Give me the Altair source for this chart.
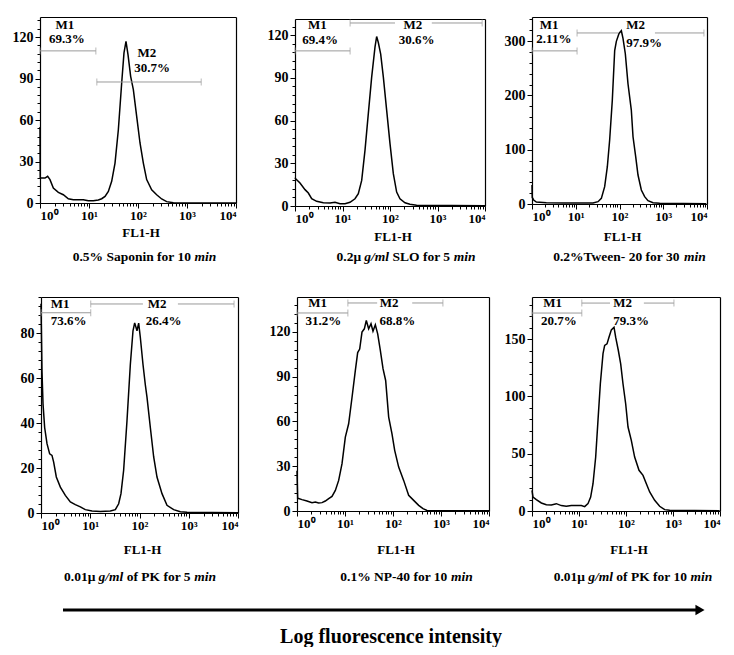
import math
import altair as alt
import pandas as pd

FONT = "Liberation Serif"

# ---------------- data: x = log10(FL1-H), y = counts ----------------
sap_x = [0.0, 0.005, 0.034, 0.102, 0.156, 0.204, 0.272, 0.374, 0.476, 0.578, 0.680, 0.884, 0.986, 1.088,
         1.19, 1.259, 1.327, 1.395, 1.463, 1.531, 1.599, 1.667, 1.714, 1.755, 1.796, 1.850, 1.905, 1.973,
         2.041, 2.109, 2.177, 2.279, 2.381, 2.483, 2.585, 2.721, 4.0]
sap_y = [55, 18, 18, 18, 19.3, 16.9, 10.8, 7.7, 6.0, 3.1, 2.4, 2.4, 1.7, 1.7,
         2.2, 3.1, 4.8, 8.4, 15.7, 28.9, 53.0, 86.8, 108.5, 116.9, 107.3, 91.6, 82.0, 62.7,
         43.4, 28.9, 16.9, 9.6, 6.0, 2.9, 1.0, 0.2, 0.0]

slo_x = [0.0, 0.014, 0.035, 0.105, 0.211, 0.281, 0.351, 0.456, 0.596, 0.737, 0.842, 0.947, 1.053, 1.158,
         1.263, 1.333, 1.404, 1.474, 1.544, 1.614, 1.684, 1.719, 1.754, 1.804, 1.860, 1.930, 2.000, 2.070,
         2.140, 2.210, 2.316, 2.420, 2.560, 4.0]
slo_y = [20, 19.2, 18.5, 16.1, 11.5, 9.1, 5.1, 3.3, 2.3, 2.1, 2.6, 1.6, 1.6, 2.6,
         5.1, 8.7, 18.0, 39.3, 65.1, 90.6, 111.6, 119.1, 114.9, 106.7, 90.6, 67.2, 43.8, 22.7,
         9.8, 5.1, 2.3, 1.2, 0.5, 0.2]

tween_x = [0.0, 0.005, 0.038, 0.099, 0.328, 0.709, 1.090, 1.394, 1.509, 1.585, 1.661, 1.722, 1.775, 1.836,
           1.890, 1.928, 1.989, 2.042, 2.080, 2.133, 2.194, 2.270, 2.309, 2.370, 2.423, 2.499, 2.575, 2.651,
           2.766, 2.918, 3.985]
tween_y = [35, 12, 7.4, 3.7, 2.5, 1.8, 1.8, 1.8, 4.3, 10.4, 31.9, 68.7, 117.8, 191.4,
           282.6, 299.5, 314.2, 319.1, 305.0, 276.7, 221.5, 173.0, 123.9, 87.1, 53.4, 25.8, 13.5, 6.1,
           2.5, 1.2, 0.6]

pk5_x = [0.0, 0.020, 0.041, 0.074, 0.122, 0.176, 0.223, 0.257, 0.311, 0.393, 0.494, 0.596, 0.697, 0.799,
         0.900, 1.036, 1.205, 1.408, 1.509, 1.577, 1.624, 1.678, 1.746, 1.814, 1.868, 1.902, 1.949, 1.983,
         2.017, 2.071, 2.118, 2.152, 2.220, 2.288, 2.355, 2.457, 2.558, 2.694, 2.829, 2.964, 4.0]
pk5_y = [93, 63, 48.5, 38, 30.8, 26.3, 25.6, 22.6, 16.0, 11.5, 7.8, 4.9, 3.7, 2.7,
         1.5, 0.9, 0.7, 0.9, 1.5, 4.1, 8.6, 19.0, 41.0, 66.0, 81.0, 84.5, 81.0, 84.4,
         78.0, 66.0, 57.0, 51.5, 38.0, 24.9, 16.0, 8.6, 3.4, 1.5, 0.6, 0.3, 0.1]

np40_x = [0.0, 0.014, 0.035, 0.104, 0.208, 0.313, 0.382, 0.451, 0.521, 0.590, 0.660, 0.729, 0.799, 0.868,
          0.938, 1.007, 1.076, 1.146, 1.215, 1.264, 1.306, 1.354, 1.403, 1.444, 1.493, 1.542, 1.583, 1.632,
          1.681, 1.736, 1.792, 1.847, 1.910, 1.979, 2.035, 2.118, 2.222, 2.326, 2.431, 2.535, 2.625, 2.708, 4.0]
np40_y = [27, 8.3, 8.3, 7.6, 6.7, 5.6, 6.0, 5.4, 5.6, 6.7, 8.3, 9.8, 13.8, 20.5,
          31.7, 49.5, 58.4, 76.0, 94.0, 106.1, 108.4, 119.8, 122.0, 127.6, 122.0, 125.4, 120.4, 124.7,
          118.6, 107.5, 95.3, 87.4, 62.9, 51.7, 40.6, 29.4, 20.5, 10.5, 7.1, 3.8, 1.6, 0.4, 0.2]

pk10_x = [0.0, 0.021, 0.092, 0.199, 0.305, 0.411, 0.518, 0.624, 0.730, 0.837, 0.943, 1.050, 1.121, 1.191,
          1.248, 1.298, 1.355, 1.404, 1.454, 1.511, 1.546, 1.596, 1.638, 1.688, 1.745, 1.780, 1.837, 1.887,
          1.936, 1.993, 2.043, 2.113, 2.184, 2.277, 2.362, 2.433, 2.504, 2.610, 2.716, 2.823, 2.929, 3.993]
pk10_y = [18, 12.2, 9.9, 7.0, 5.5, 5.2, 6.4, 4.7, 4.1, 4.7, 4.9, 4.7, 3.8, 6.4,
          12.2, 23.8, 47.1, 79.1, 111.1, 137.3, 144.5, 145.9, 151.7, 158.1, 160.4, 151.7, 140.1, 128.5,
          111.1, 93.6, 73.3, 61.6, 47.1, 35.5, 31.1, 23.8, 16.6, 9.3, 4.1, 1.2, 0.6, 0.3]

# marker gates (log10 FL1-H and count height)
m1_hi = [1.14, 1.16, 1.03, 1.01, 1.06, 1.06]
m1_y = [110, 109, 282, 89, 132.6, 172.8]
m2_lo = [1.16, 1.16, 1.03, 1.01, 1.06, 1.06]
m2_hi = [3.29, 3.94, 3.93, 3.92, 3.04, 3.02]
m2_y = [87.5, 128.6, 315, 92.9, 139.3, 181.5]
m1_pct = ["69.3%", "69.4%", "2.11%", "73.6%", "31.2%", "20.7%"]
m2_pct = ["30.7%", "30.6%", "97.9%", "26.4%", "68.8%", "79.3%"]

captions = [
    [("0.5% Saponin for 10 ", False), ("min", True)],
    [("0.2\u03bc ", False), ("g/ml", True), (" SLO for 5 ", False), ("min", True)],
    [("0.2%Tween- 20 for 30 ", False), ("min", True)],
    [("0.01\u03bc ", False), ("g/ml", True), (" of PK for 5 ", False), ("min", True)],
    [("0.1% NP-40 for 10 ", False), ("min", True)],
    [("0.01\u03bc ", False), ("g/ml", True), (" of PK for 10 ", False), ("min", True)],
]

# ---------------- layout / styling ----------------
W, H = 718, 639
# plot boxes in pixels: left, right, top, bottom
boxes = [(32, 228, 9, 195), (287, 477, 11, 198), (524, 699, 9, 196),
         (33, 230, 289, 505), (289, 481, 289, 503), (524, 712, 289, 503)]
ymaxs = [134.5, 131.4, 344.4, 96.0, 143.3, 186.8]
majors = [30, 30, 100, 20, 30, 50]
m2_gap = [None, (2.105, 2.88), (1.97, 2.81), (2.07, 2.78), (1.67, 2.40), (1.66, 2.38)]
label_pos = [
    [(0.51, 129), (0.55, 118.5), (2.18, 108.4), (2.29, 97.6)],
    [(0.47, 127.2), (0.53, 116.6), (2.48, 127.2), (2.56, 116.6)],
    [(0.39, 329.6), (0.50, 303.9), (2.37, 329.6), (2.56, 296.5)],
    [(0.39, 92.9), (0.56, 85.3), (2.36, 92.9), (2.49, 85.3)],
    [(0.43, 139.3), (0.55, 127.2), (1.92, 139.3), (2.09, 127.2)],
    [(0.44, 181.5), (0.57, 165.8), (1.93, 181.5), (2.11, 165.8)],
]
xtitle_y = [225, 229, 229, 542, 542, 542]
cap_y = [249, 249, 249, 569, 569, 569]
cap_cx = [136.5, 398, 621.5, 132, 398.5, 625]
CAP_SIZE = 13.5
FRAME_W = 1.2

W_B = {' ': 250, '%': 1000, '-': 333, '.': 250, '/': 278, '\u03bc': 556,
       'A': 722, 'K': 778, 'L': 667, 'N': 722, 'O': 778, 'P': 611, 'S': 556, 'T': 667, 'W': 1000,
       'a': 500, 'e': 444, 'f': 333, 'g': 500, 'i': 278, 'l': 278, 'm': 833, 'n': 556,
       'o': 500, 'p': 556, 'r': 444, 'w': 722}
W_BI = {'g': 500, '/': 278, 'm': 778, 'l': 278, 'i': 278, 'n': 556, ' ': 250}


def text_width(s, italic, size):
    table = W_BI if italic else W_B
    return sum(table.get(c, 500) for c in s) * size / 1000.0


one = pd.DataFrame({"a": [0]})
SUP = ['10\u2070', '10\u00b9', '10\u00b2', '10\u00b3', '10\u2074']
LBL = dict(labelFont=FONT, labelFontWeight="bold", labelColor="black")


def text_layer(txt, x, y, size, italic=False, align="center"):
    props = dict(font=FONT, fontWeight="bold", fontSize=size, align=align,
                 baseline="middle", color="black", text=txt)
    if italic:
        props["fontStyle"] = "italic"
    return alt.Chart(one).mark_text(**props).encode(x=alt.value(x), y=alt.value(y))


def panel_layers(k, xs, ys):
    L, R, T, B = boxes[k]
    ymax, major = ymaxs[k], majors[k]
    minor = major // 5
    xsc = alt.Scale(domain=[0, 4], range=[L, R], nice=False, zero=False)
    ysc = alt.Scale(domain=[0, ymax], range=[B, T], nice=False, zero=True)
    y_major = list(range(0, int(ymax) + 1, major))
    y_minor = [v for v in range(0, int(ymax) + 1, minor) if v % major != 0]
    x_minor = [round(d + math.log10(m), 5) for d in range(4) for m in range(2, 10)]
    off_b, off_l, off_t, off_r = B - H, -L, -T, R - W
    xaxis = alt.Axis(orient="bottom", offset=off_b, values=[0, 1, 2, 3, 4],
                     labelExpr="['" + "','".join(SUP) + "'][round(datum.value)]",
                     tickSize=5, labelFlush=True, grid=False, title=None,
                     labelFontSize=13, labelPadding=1, domainColor="black", domainWidth=FRAME_W,
                     tickColor="black", **LBL)
    yaxis = alt.Axis(orient="left", offset=off_l, values=y_major, tickSize=5, grid=False, title=None,
                     labelFontSize=14, labelPadding=2, domainColor="black", domainWidth=FRAME_W,
                     tickColor="black", **LBL)
    xaxis_minor = alt.Axis(orient="bottom", offset=off_b, values=x_minor, tickSize=3, labels=False,
                           domain=False, grid=False, title=None, tickColor="black")
    yaxis_minor = alt.Axis(orient="left", offset=off_l, values=y_minor, tickSize=3, labels=False,
                           domain=False, grid=False, title=None, tickColor="black")
    xaxis_top = alt.Axis(orient="top", offset=off_t, ticks=False, labels=False, grid=False, title=None,
                         domainColor="black", domainWidth=FRAME_W)
    yaxis_right = alt.Axis(orient="right", offset=off_r, ticks=False, labels=False, grid=False, title=None,
                           domainColor="black", domainWidth=FRAME_W)

    df = pd.DataFrame({"x": xs, "y": ys, "i": list(range(len(xs)))})
    curve = alt.Chart(df).mark_line(color="black", strokeWidth=1.5).encode(
        x=alt.X("x:Q", scale=xsc, axis=xaxis),
        y=alt.Y("y:Q", scale=ysc, axis=yaxis),
        order=alt.Order("i:Q"),
    )
    segs = [(0.0, m1_hi[k], m1_y[k])]
    if m2_gap[k] is None:
        segs.append((m2_lo[k], m2_hi[k], m2_y[k]))
    else:
        segs.append((m2_lo[k], m2_gap[k][0], m2_y[k]))
        segs.append((m2_gap[k][1], m2_hi[k], m2_y[k]))
    seg_df = pd.DataFrame(segs, columns=["x", "x2", "y"])
    gates = alt.Chart(seg_df).mark_rule(color="#9a9a9a", strokeWidth=1).encode(
        x=alt.X("x:Q", scale=xsc, axis=xaxis_minor), x2="x2:Q",
        y=alt.Y("y:Q", scale=ysc, axis=yaxis_minor))
    ends = pd.DataFrame({"x": [0.0, m1_hi[k], m2_lo[k], m2_hi[k]],
                         "y": [m1_y[k], m1_y[k], m2_y[k], m2_y[k]]})
    end_ticks = alt.Chart(ends).mark_tick(orient="vertical", size=7, thickness=1, color="#9a9a9a").encode(
        x=alt.X("x:Q", scale=xsc, axis=xaxis_top), y=alt.Y("y:Q", scale=ysc, axis=yaxis_right))
    lp = label_pos[k]
    lab_df = pd.DataFrame({"t": ["M1", m1_pct[k], "M2", m2_pct[k]],
                           "x": [p[0] for p in lp], "y": [p[1] for p in lp]})
    labels = alt.Chart(lab_df).mark_text(font=FONT, fontWeight="bold", fontSize=13,
                                         align="center", baseline="middle", color="black").encode(
        x=alt.X("x:Q", scale=xsc, axis=None), y=alt.Y("y:Q", scale=ysc, axis=None), text="t:N")
    layers = [curve, gates, end_ticks, labels]
    # axis title and caption
    layers.append(text_layer("FL1-H", (L + R) / 2.0 + 3, xtitle_y[k], 13))
    segsc = captions[k]
    total = sum(text_width(s, it, CAP_SIZE) for s, it in segsc)
    cur = cap_cx[k] - total / 2.0
    for s, it in segsc:
        lead = len(s) - len(s.lstrip(" "))
        xpos = cur + text_width(" " * lead, it, CAP_SIZE)
        layers.append(text_layer(s.strip(), xpos, cap_y[k], CAP_SIZE, italic=it, align="left"))
        cur += text_width(s, it, CAP_SIZE)
    return layers


series = [(sap_x, sap_y), (slo_x, slo_y), (tween_x, tween_y),
          (pk5_x, pk5_y), (np40_x, np40_y), (pk10_x, pk10_y)]
all_layers = []
for k in range(6):
    all_layers += panel_layers(k, *series[k])

# bottom arrow and overall axis caption
all_layers.append(alt.Chart(one).mark_rule(strokeWidth=3, color="black").encode(
    x=alt.value(55), x2=alt.value(690), y=alt.value(602)))
all_layers.append(alt.Chart(one).mark_point(shape="triangle-right", filled=True, size=110,
                                            color="black", opacity=1).encode(
    x=alt.value(692), y=alt.value(602)))
all_layers.append(text_layer("Log fluorescence intensity", 383, 629, 20))

chart = alt.layer(*all_layers).resolve_scale(
    x="independent", y="independent"
).resolve_axis(
    x="independent", y="independent"
).properties(
    width=W, height=H, padding=0
).configure_view(stroke="transparent")

chart.save("out.html", embed_options={"renderer": "svg", "actions": False})
